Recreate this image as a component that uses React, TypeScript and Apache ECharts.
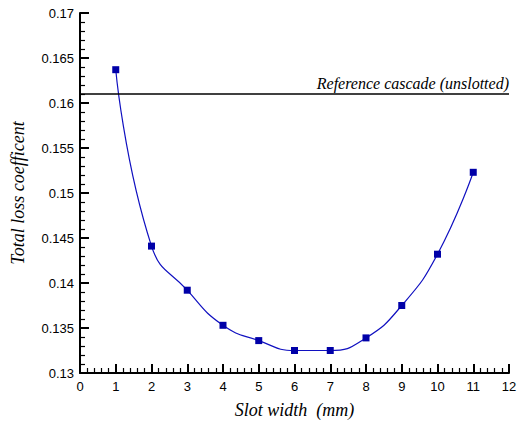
import React, { useEffect, useRef } from "react";
import * as echarts from "echarts";

const slotWidth = [1, 2, 3, 4, 5, 6, 7, 8, 9, 10, 11];
const totalLoss = [0.1637, 0.1441, 0.1392, 0.1353, 0.1336, 0.1325, 0.1325, 0.1339, 0.1375, 0.1432, 0.1523];
const referenceLoss = 0.161;
const referenceLabel = "Reference cascade (unslotted)";
const xTitle = "Slot width  (mm)";
const yTitle = "Total loss coefficent";

export default function App() {
  const ref = useRef<HTMLDivElement>(null);
  useEffect(() => {
    if (!ref.current) return;
    const chart = echarts.init(ref.current, null, { renderer: "svg" });
    const axisCommon = {
      axisLine: { show: true, onZero: false, lineStyle: { color: "#000", width: 2 } },
      axisTick: { show: true, inside: true, length: 9, lineStyle: { color: "#000", width: 2 } },
      minorTick: { show: true, splitNumber: 5, length: 5, lineStyle: { color: "#000", width: 1.2 } },
      splitLine: { show: false },
      axisLabel: { color: "#000", fontFamily: "Liberation Sans", fontSize: 13 },
      nameTextStyle: { color: "#000", fontFamily: "Liberation Serif", fontStyle: "italic", fontSize: 18 },
    };
    chart.setOption({
      animation: false,
      backgroundColor: "#fff",
      grid: { left: 80, right: 10, top: 13, bottom: 48, containLabel: false, outerBoundsMode: "none" },
      xAxis: {
        type: "value",
        min: 0,
        max: 12,
        interval: 1,
        name: xTitle,
        nameLocation: "middle",
        nameGap: 28,
        ...axisCommon,
        axisLabel: { ...axisCommon.axisLabel, margin: 7 },
      },
      yAxis: {
        type: "value",
        min: 0.13,
        max: 0.17,
        interval: 0.005,
        name: yTitle,
        nameLocation: "middle",
        nameGap: 53,
        ...axisCommon,
        axisLabel: {
          ...axisCommon.axisLabel,
          margin: 6,
          formatter: (v: number) => String(Number(v.toFixed(3))),
        },
      },
      series: [
        {
          type: "line",
          data: slotWidth.map((x, i) => [x, totalLoss[i]]),
          smooth: 0.5,
          symbol: "rect",
          symbolSize: 7,
          itemStyle: { color: "#0000a8" },
          lineStyle: { color: "#1010c0", width: 1.2 },
          markLine: {
            silent: true,
            symbol: "none",
            precision: 4,
            lineStyle: { color: "#000", width: 1.5, type: "solid" },
            label: {
              show: true,
              position: "insideEndTop",
              formatter: referenceLabel,
              color: "#000",
              fontFamily: "Liberation Serif",
              fontStyle: "italic",
              fontSize: 16,
              distance: [0, 3],
            },
            data: [{ yAxis: referenceLoss }],
          },
        },
      ],
    });
    return () => chart.dispose();
  }, []);
  return (
    <div
      ref={ref}
      style={{ position: "fixed", left: 0, top: 0, width: 519, height: 421 }}
    />
  );
}
